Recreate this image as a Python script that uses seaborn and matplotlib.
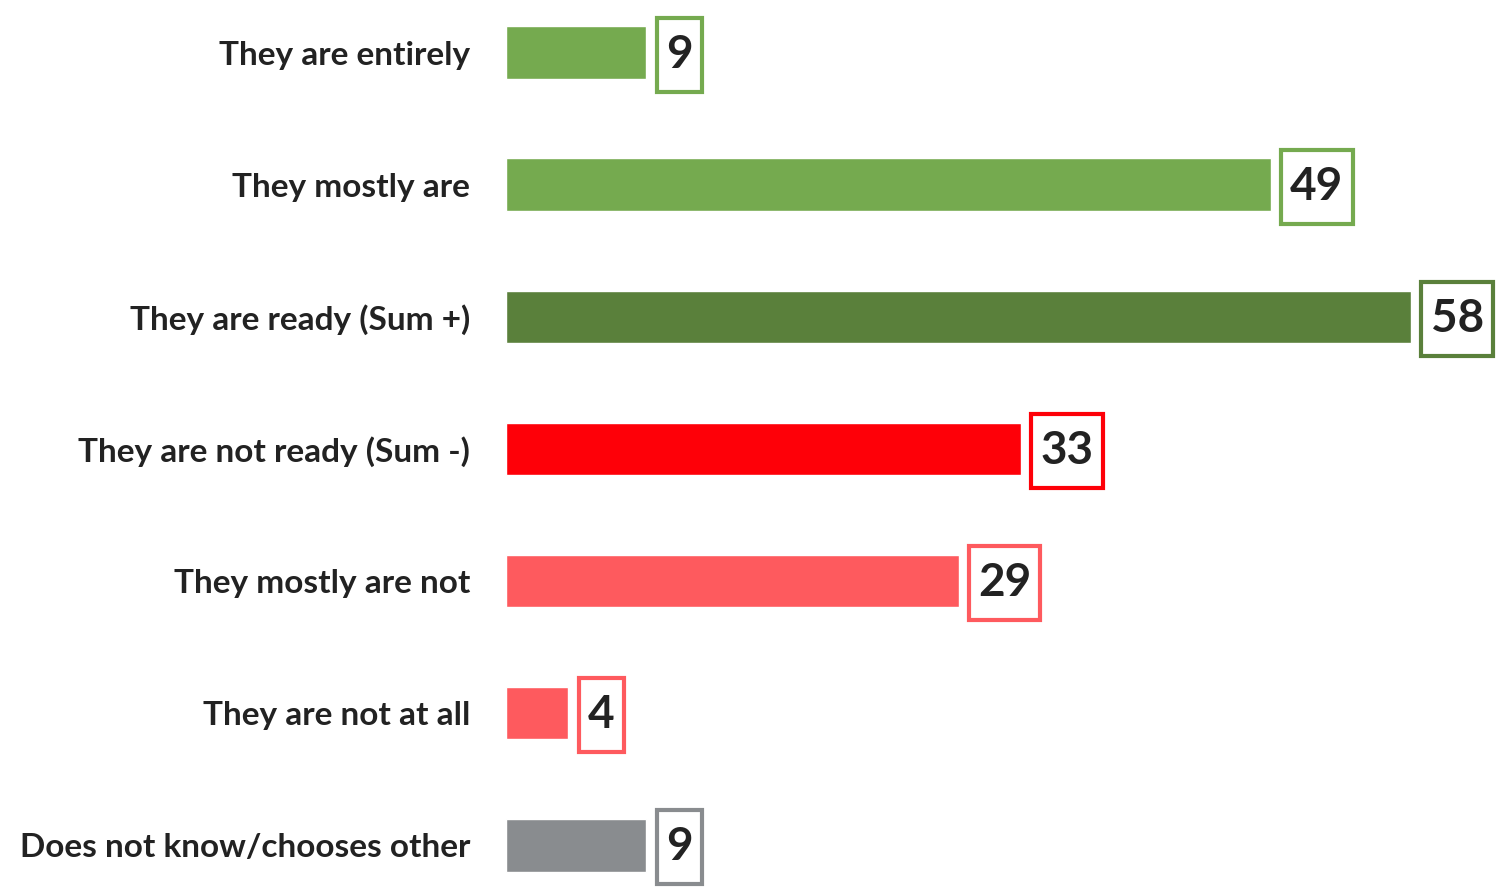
import matplotlib.pyplot as plt
import seaborn as sns

# Chart data
categories = ['They are entirely', 'They mostly are', 'They are ready (Sum +)',
              'They are not ready (Sum -)', 'They mostly are not',
              'They are not at all', 'Does not know/chooses other']
values = [9, 49, 58, 33, 29, 4, 9]
colors = ['#75AA4F', '#75AA4F', '#5A803B', '#FE0008', '#FE5A5E', '#FE5A5E', '#898C8F']

sns.set_style('white')
plt.rcParams['font.family'] = ['Lato', 'DejaVu Sans']

fig = plt.figure(figsize=(15.11, 8.9), dpi=100)
ax = fig.add_axes([506 / 1511, 0, 1 - 506 / 1511, 1])

sns.barplot(x=values, y=categories, hue=categories, palette=colors,
            width=0.4, legend=False, orient='h', ax=ax, saturation=1)

# value boxes with coloured borders (taller than wide padding)
for i, (v, c) in enumerate(zip(values, colors)):
    ax.annotate(str(v), xy=(v, i), xytext=(14, -1.5), textcoords='offset points',
                ha='left', va='center', fontsize=33, fontweight='bold', color='#222222',
                bbox=dict(boxstyle='square,pad=0.2', fc='white', ec=c, lw=3,
                          mutation_aspect=1.75))

ax.set_xlim(0, 64.4)
ax.set_ylim(6.34, -0.40)
ax.set_xticks([])
ax.set_xlabel('')
ax.set_ylabel('')
ax.tick_params(axis='y', length=0, pad=26, labelsize=24, labelcolor='#222222')
for lbl in ax.get_yticklabels():
    lbl.set_fontweight('bold')
sns.despine(ax=ax, left=True, bottom=True)

fig.savefig('out.png', dpi=100)
